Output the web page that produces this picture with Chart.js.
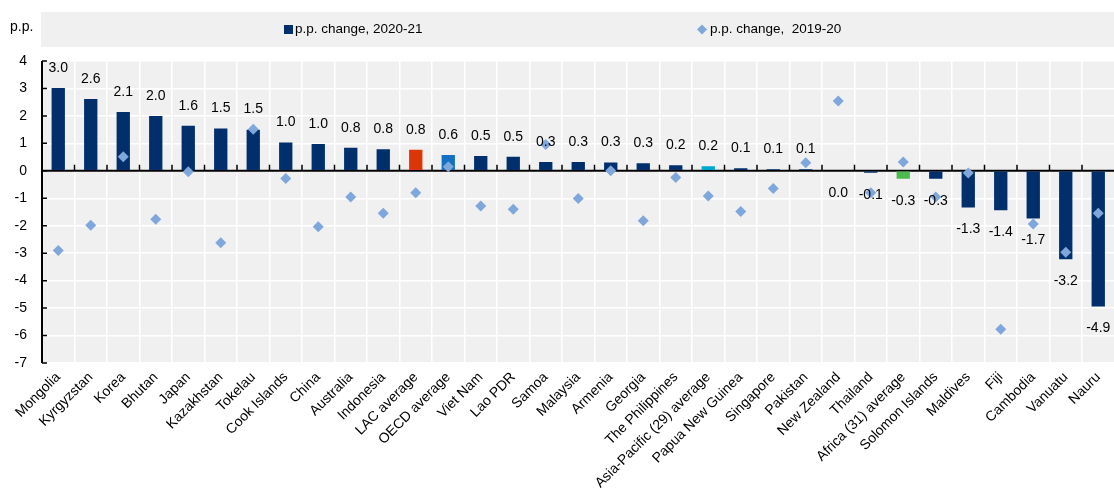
<!DOCTYPE html>
<html>
<head>
<meta charset="utf-8">
<script src="https://cdn.jsdelivr.net/npm/chart.js@4.4.1/dist/chart.umd.min.js"></script>
<style>
  html, body { margin: 0; padding: 0; background: #fff; overflow: hidden; }
  #wrap { width: 1114px; height: 494px; overflow: hidden; position: relative; }
  #c { position: absolute; left: 0; top: 0; display: block; }
</style>
</head>
<body>
<div id="wrap"><canvas id="c" width="1120" height="494"></canvas></div>
<script>
// Countries and aggregates, ordered by the 2020-21 change
const categories = [
  'Mongolia', 'Kyrgyzstan', 'Korea', 'Bhutan', 'Japan', 'Kazakhstan', 'Tokelau',
  'Cook Islands', 'China', 'Australia', 'Indonesia', 'LAC average', 'OECD average',
  'Viet Nam', 'Lao PDR', 'Samoa', 'Malaysia', 'Armenia', 'Georgia', 'The Philippines',
  'Asia-Pacific (29) average', 'Papua New Guinea', 'Singapore', 'Pakistan',
  'New Zealand', 'Thailand', 'Africa (31) average', 'Solomon Islands', 'Maldives',
  'Fiji', 'Cambodia', 'Vanuatu', 'Nauru'
];

// Percentage-point change, 2020-21 (bars)
const change2020_21 = [
  3.02, 2.62, 2.14, 2.0, 1.64, 1.54, 1.5,
  1.03, 0.98, 0.84, 0.79, 0.77, 0.58,
  0.54, 0.51, 0.32, 0.32, 0.3, 0.28, 0.2,
  0.17, 0.09, 0.06, 0.06,
  0.0, -0.07, -0.29, -0.29, -1.34,
  -1.44, -1.74, -3.22, -4.94
];

// Percentage-point change, 2019-20 (diamonds)
const change2019_20 = [
  -2.9, -1.98, 0.51, -1.76, -0.03, -2.62, 1.51,
  -0.28, -2.04, -0.95, -1.55, -0.8, 0.15,
  -1.28, -1.4, 0.96, -1.01, 0.0, -1.82, -0.24,
  -0.92, -1.48, -0.64, 0.29,
  2.54, -0.8, 0.32, -0.95, -0.08,
  -5.77, -1.94, -2.97, -1.55
];

const yTicks = [-7, -6, -5, -4, -3, -2, -1, 0, 1, 2, 3, 4];
const seriesLabels = ['p.p. change, 2020-21', 'p.p. change,  2019-20'];
const unitLabel = 'p.p.';

// Aggregate bars get their own colours
const highlight = {
  'LAC average': '#dc3507',
  'OECD average': '#1470c2',
  'Asia-Pacific (29) average': '#00a8cc',
  'Africa (31) average': '#4cba4c'
};
const NAVY = '#002f6c';
const DIAMOND = '#7fa7db';
const PANEL = '#f0f0f0';
const FONT = '"Liberation Sans", Arial, Helvetica, sans-serif';

const barColors = categories.map(c => highlight[c] || NAVY);

// Panel backgrounds, legend strip and unit label
const backdrop = {
  id: 'backdrop',
  beforeDraw(chart) {
    const { ctx, chartArea: a } = chart;
    ctx.save();
    ctx.fillStyle = PANEL;
    ctx.fillRect(a.left, a.top, a.right - a.left, a.bottom - a.top);
    ctx.fillRect(41, 12, chart.width - 41, 35);

    ctx.fillStyle = '#000';
    ctx.font = '14px ' + FONT;
    ctx.textBaseline = 'middle';
    ctx.textAlign = 'left';
    ctx.fillText(unitLabel, 10, 27);

    // legend items
    const cy = 29.5;
    ctx.font = '13.5px ' + FONT;
    ctx.fillStyle = NAVY;
    ctx.fillRect(284, cy - 4.5, 9, 9);
    ctx.fillStyle = '#000';
    ctx.fillText(seriesLabels[0], 295, cy);

    ctx.fillStyle = DIAMOND;
    ctx.beginPath();
    ctx.moveTo(702, cy - 5);
    ctx.lineTo(707, cy);
    ctx.lineTo(702, cy + 5);
    ctx.lineTo(697, cy);
    ctx.closePath();
    ctx.fill();
    ctx.fillStyle = '#000';
    ctx.fillText(seriesLabels[1], 710, cy);
    ctx.restore();
  }
};

// Black axis lines with short tick marks
const axes = {
  id: 'axes',
  beforeDatasetsDraw(chart) {
    const { ctx, chartArea: a, scales: { x, y } } = chart;
    const y0 = y.getPixelForValue(0);
    ctx.save();
    ctx.strokeStyle = '#000';
    ctx.lineWidth = 2;
    ctx.beginPath();
    ctx.moveTo(a.left, y0);
    ctx.lineTo(a.right, y0);
    ctx.moveTo(a.left, a.top);
    ctx.lineTo(a.left, a.bottom);
    ctx.stroke();

    ctx.lineWidth = 1.5;
    ctx.beginPath();
    for (let i = 1; i < categories.length; i++) {
      const bx = (x.getPixelForValue(i - 1) + x.getPixelForValue(i)) / 2;
      ctx.moveTo(bx, y0);
      ctx.lineTo(bx, y0 - 6);
    }
    yTicks.forEach(v => {
      const py = y.getPixelForValue(v);
      ctx.moveTo(a.left, py);
      ctx.lineTo(a.left + 5, py);
    });
    ctx.stroke();
    ctx.restore();
  }
};

// Value labels beside each bar end
const valueLabels = {
  id: 'valueLabels',
  afterDatasetsDraw(chart) {
    const { ctx } = chart;
    const meta = chart.getDatasetMeta(0);
    ctx.save();
    ctx.font = '14px ' + FONT;
    ctx.fillStyle = '#000';
    ctx.textAlign = 'center';
    ctx.textBaseline = 'middle';
    meta.data.forEach((bar, i) => {
      const v = change2020_21[i];
      const ty = v > 0 ? bar.y - 20 : bar.y + 22;
      ctx.fillText(v.toFixed(1), bar.x, ty);
    });
    ctx.restore();
  }
};

new Chart(document.getElementById('c'), {
  type: 'bar',
  data: {
    labels: categories,
    datasets: [
      {
        label: seriesLabels[0],
        data: change2020_21,
        backgroundColor: barColors,
        borderWidth: 0,
        barPercentage: 0.41,
        categoryPercentage: 1,
        order: 1
      },
      {
        type: 'line',
        label: seriesLabels[1],
        data: change2019_20,
        showLine: false,
        pointStyle: 'rectRot',
        pointRadius: 5.5,
        pointHoverRadius: 5.5,
        backgroundColor: DIAMOND,
        borderColor: DIAMOND,
        borderWidth: 0,
        order: 0
      }
    ]
  },
  options: {
    responsive: false,
    animation: false,
    devicePixelRatio: 1,
    layout: { padding: { top: 61, left: 14, right: 0, bottom: 0 } },
    plugins: {
      legend: { display: false },
      tooltip: { enabled: false }
    },
    scales: {
      x: {
        afterFit(scale) { scale.height = 131; },
        grid: { color: '#ffffff', lineWidth: 1.5, offset: true, drawTicks: false },
        border: { display: false },
        ticks: {
          autoSkip: false,
          minRotation: 45,
          maxRotation: 45,
          padding: 6,
          color: '#000',
          font: { family: FONT, size: 14 }
        }
      },
      y: {
        min: -7,
        max: 4,
        afterFit(scale) { scale.width = 28; },
        afterBuildTicks(scale) { scale.ticks = yTicks.map(v => ({ value: v })); },
        grid: { color: '#ffffff', lineWidth: 1.5, drawTicks: false },
        border: { display: false },
        ticks: {
          padding: 15,
          color: '#000',
          font: { family: FONT, size: 14 }
        }
      }
    }
  },
  plugins: [backdrop, axes, valueLabels]
});
</script>
</body>
</html>
